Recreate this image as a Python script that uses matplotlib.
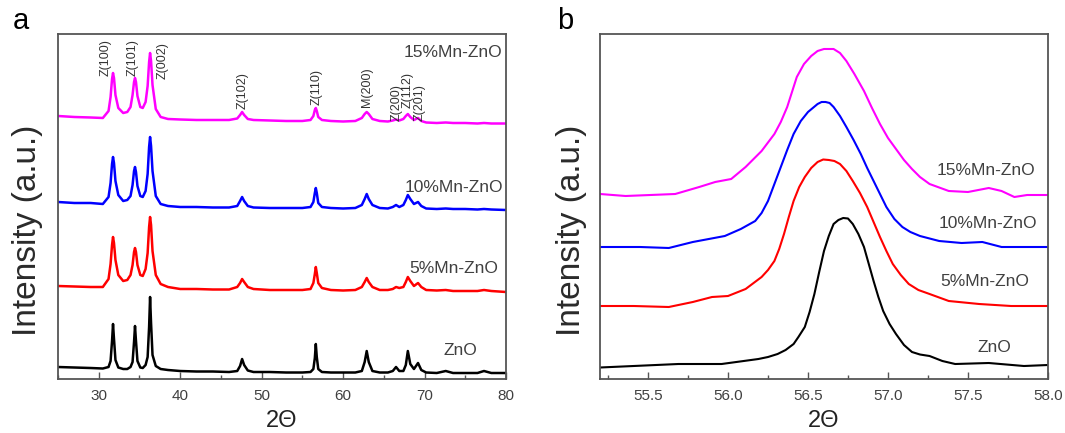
import matplotlib
matplotlib.use("Agg")
import matplotlib.pyplot as plt
from matplotlib.ticker import MultipleLocator

plt.rcParams['font.family'] = ['Liberation Sans', 'DejaVu Sans']

# ---- panel a: full XRD patterns (intensity in a.u., offset stacked) ----
two_theta_a = [25, 27, 29, 30.5, 31.2, 31.45, 31.63, 31.75, 31.87, 32.05,
               32.4, 33.0, 33.5, 33.9, 34.15, 34.33, 34.45, 34.57, 34.75, 35.1,
               35.4, 35.75, 36.0, 36.18, 36.3, 36.42, 36.6, 37.0, 37.6, 38.5,
               40, 42, 44, 46, 47.0, 47.35, 47.6, 47.85, 48.3, 49,
               51, 53, 55, 56.0, 56.35, 56.53, 56.65, 56.77, 56.95, 57.4,
               58.5, 60, 61.5, 62.3, 62.65, 62.9, 63.15, 63.6, 64.5, 65.5,
               66.1, 66.5, 66.9, 67.4, 67.7, 67.95, 68.25, 68.7, 69.2, 69.6,
               70.2, 71.5, 72.6, 73.5, 75, 76.5, 77.3, 78.2, 80]

zno_a = [12, 11.5, 11, 10.5, 12, 18, 38, 55, 40, 19,
         11.5, 10, 10, 12, 17, 37, 53, 38, 18, 11.5,
         11, 14, 22, 52, 82, 56, 24, 13, 10, 9,
         8, 7.5, 7.5, 7, 8, 13, 20, 14, 8.5, 7,
         7, 6.5, 6.5, 7, 10, 21, 35, 22, 10, 7,
         6.5, 6.5, 6.5, 8, 17, 28, 17, 8, 6.5, 6.5,
         8, 12, 8, 8, 14, 28, 15, 10, 16, 9,
         6.5, 6, 8, 6, 6, 6, 8, 6, 6]

mn5_a = [93, 92.5, 92, 92, 100, 115, 134, 142, 136, 119,
         104, 98, 99, 104, 114, 127, 131, 127, 114, 104,
         103, 110, 126, 152, 162, 154, 128, 104, 95, 92,
         90, 90, 89.5, 89.5, 92, 96, 100, 97, 92, 90,
         89, 89, 89, 90, 96, 105, 112, 106, 96, 91,
         89, 88.5, 89, 92, 97, 101, 97, 92, 89, 89,
         90, 92, 91, 92, 97, 102, 98, 93, 96, 92,
         89, 88.5, 89, 88, 88, 88, 89, 88, 87]

mn10_a = [177, 176, 176, 175, 182, 196, 215, 222, 216, 198,
          184, 178, 179, 183, 194, 208, 212, 207, 193, 183,
          182, 188, 205, 232, 242, 233, 208, 183, 175, 173,
          172, 172, 171.5, 171.5, 173, 178, 182, 178, 173, 171.5,
          171, 171, 171, 172, 177, 186, 191, 186, 176, 172,
          171, 170.5, 171, 174, 180, 185, 180, 174, 171, 170.5,
          172, 174, 172, 174, 179, 184, 180, 175, 177, 173,
          170.5, 170, 170.5, 170, 170, 169.5, 170, 169.5, 169]

mn15_a = [263, 262, 261.5, 261, 268, 282, 300, 306, 301, 284,
          271, 266, 267, 272, 284, 297, 301, 297, 283, 272,
          271, 277, 293, 317, 326, 318, 294, 270, 262, 260,
          259.5, 259, 259, 259, 260.5, 264, 267, 264, 260, 259,
          258.5, 258, 258, 259, 263, 269, 271, 268, 262, 259,
          258, 257.5, 258, 261, 265, 267, 265, 260, 258, 257.5,
          258.5, 259.5, 258.5, 260, 263, 265, 262, 259, 261, 258,
          256.5, 256, 256.5, 256, 256, 255.5, 256, 255.5, 255.5]

peak_names = ["Z(100)", "Z(101)", "Z(002)", "Z(102)", "Z(110)",
              "M(200)", "Z(200)", "Z(112)", "Z(201)"]
peak_label_x = [30.9, 34.2, 37.8, 47.7, 56.8, 62.9, 66.6, 67.9, 69.4]
peak_label_top = [340, 340, 337, 307, 310, 312, 295, 307, 295]

# ---- panel b: zoom on the (110) reflection ----
zno_b_x = [55.2, 55.69, 55.96, 56.19, 56.25, 56.31, 56.36, 56.41, 56.44, 56.48,
           56.51, 56.54, 56.57, 56.60, 56.63, 56.66, 56.69, 56.72, 56.75, 56.78,
           56.815, 56.85, 56.88, 56.91, 56.94, 56.97, 57.01, 57.05, 57.10, 57.15,
           57.20, 57.26, 57.34, 57.42, 57.63, 57.85, 58.0]
zno_b = [11.5, 15, 15, 20, 22, 25, 29, 35, 42, 52,
         67, 85, 107, 128, 143, 155, 159, 161, 160.5, 155,
         145, 132, 115, 98, 82, 68, 55, 45, 34, 27,
         24.5, 23, 18, 15, 16, 13, 14]

mn5_b_x = [55.2, 55.41, 55.63, 55.78, 55.90, 56.00, 56.11, 56.21, 56.25, 56.29,
           56.32, 56.35, 56.38, 56.41, 56.445, 56.48, 56.52, 56.56, 56.595, 56.63,
           56.665, 56.70, 56.74, 56.78, 56.825, 56.87, 56.91, 56.95, 56.99, 57.03,
           57.08, 57.13, 57.19, 57.26, 57.38, 57.57, 57.77, 58.0]
mn5_b = [73, 73, 72, 77, 82, 83, 90, 102, 109, 118,
         130, 145, 162, 178, 192, 202, 211, 217, 219.5, 219,
         218, 215, 208, 198, 186, 172, 157, 142, 128, 115,
         104, 95, 89, 85, 78, 75, 73, 73]

mn10_b_x = [55.2, 55.45, 55.63, 55.78, 55.88, 55.98, 56.08, 56.17, 56.21, 56.25,
            56.29, 56.33, 56.37, 56.41, 56.455, 56.50, 56.56, 56.585, 56.61, 56.635,
            56.66, 56.70, 56.74, 56.785, 56.83, 56.87, 56.91, 56.95, 56.99, 57.04,
            57.09, 57.14, 57.20, 57.32, 57.46, 57.59, 57.71, 58.0]
mn10_b = [132, 132, 131, 137, 140, 143, 150, 158, 166, 178,
          195, 212, 229, 245, 258, 267, 275, 277, 277, 276,
          272, 263, 252, 239, 225, 211, 198, 185, 172, 160,
          152, 147, 143, 138, 136, 137, 132, 132]

mn15_b_x = [55.2, 55.36, 55.67, 55.82, 55.92, 56.02, 56.11, 56.21, 56.29, 56.33,
            56.37, 56.40, 56.43, 56.475, 56.52, 56.56, 56.60, 56.66, 56.70, 56.74,
            56.79, 56.85, 56.90, 56.95, 57.00, 57.05, 57.10, 57.15, 57.20, 57.26,
            57.38, 57.50, 57.63, 57.71, 57.79, 57.87, 58.0]
mn15_b = [185, 183, 185, 192, 197, 200, 212, 228, 245, 257,
          272, 287, 302, 315, 323, 328, 330, 330, 326, 318,
          305, 288, 271, 255, 241, 230, 219, 210, 202, 195,
          188, 187, 191, 188, 182, 184, 184]

colors = ['black', '#ff0000', '#0000ff', '#ff00ff']
names = ['ZnO', '5%Mn-ZnO', '10%Mn-ZnO', '15%Mn-ZnO']
name_pos_a = [(76.5, 29), (79.0, 111), (79.6, 191), (79.5, 326)]
name_pos_b = [(57.77, 32), (57.885, 98), (57.93, 155), (57.92, 208)]

spine_col = '#555555'
text_col = '#404040'

fig = plt.figure(figsize=(10.65, 4.33), dpi=100)
ax_a = fig.add_axes([0.0545, 0.1247, 0.4206, 0.7968])
ax_b = fig.add_axes([0.5634, 0.1247, 0.4206, 0.7968])

for ys, c in zip([zno_a, mn5_a, mn10_a, mn15_a], colors):
    ax_a.plot(two_theta_a, ys, color=c, lw=1.8)

for xs, ys, c in zip([zno_b_x, mn5_b_x, mn10_b_x, mn15_b_x],
                     [zno_b, mn5_b, mn10_b, mn15_b], colors):
    ax_b.plot(xs, ys, color=c, lw=1.5)

for name, x, top in zip(peak_names, peak_label_x, peak_label_top):
    ax_a.text(x, top, name, rotation=90, ha='center', va='top',
              fontsize=9, color='#333333')

for n, (x, y) in zip(names, name_pos_a):
    ax_a.text(x, y, n, ha='right', va='center', fontsize=12.5, color=text_col)
for n, (x, y) in zip(names, name_pos_b):
    ax_b.text(x, y, n, ha='right', va='center', fontsize=12.5, color=text_col)

ax_a.set_xlim(25, 80)
ax_a.xaxis.set_major_locator(MultipleLocator(10))
ax_a.xaxis.set_minor_locator(MultipleLocator(5))
ax_b.set_xlim(55.2, 58.0)
ax_b.xaxis.set_major_locator(MultipleLocator(0.5))
ax_b.xaxis.set_minor_locator(MultipleLocator(0.25))
ax_b.xaxis.set_major_formatter(plt.FormatStrFormatter('%.1f'))

for ax, lx in ((ax_a, -0.034), (ax_b, -0.028)):
    ax.set_ylim(0, 345)
    ax.set_yticks([])
    for s in ax.spines.values():
        s.set_color(spine_col)
        s.set_linewidth(1.3)
    ax.tick_params(axis='x', which='both', direction='in', colors=spine_col,
                   labelcolor=text_col, labelsize=11, pad=7)
    ax.tick_params(axis='x', which='major', length=5, width=1)
    ax.tick_params(axis='x', which='minor', length=3, width=1)
    ax.set_xlabel('2\u0398', fontsize=17, color='#222222', labelpad=5)
    ax.set_ylabel('Intensity (a.u.)', fontsize=24, color='#2a2a2a')
    ax.yaxis.set_label_coords(lx, 0.432)

fig.text(0.0195, 0.951, 'a', fontsize=21, ha='center', va='center')
fig.text(0.531, 0.951, 'b', fontsize=21, ha='center', va='center')

fig.savefig('out.png', dpi=100)
